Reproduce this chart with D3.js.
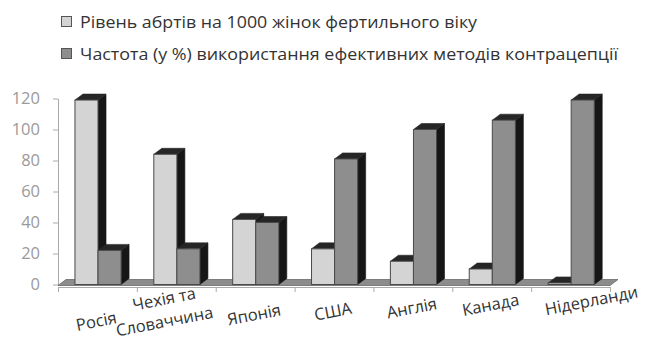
<!DOCTYPE html>
<html>
<head>
<meta charset="utf-8">
<script src="https://cdn.jsdelivr.net/npm/d3@7"></script>
<style>
  html, body { margin: 0; padding: 0; background: #fff; }
  svg { display: block; }
  text { font-family: "Open Sans", "Liberation Sans", sans-serif; }
</style>
</head>
<body>
<svg id="chart" width="648" height="351"></svg>
<script>
// Countries along the category axis
const categories = ["Росія", "Чехія та\nСловаччина", "Японія", "США", "Англія", "Канада", "Нідерланди"];
// Abortions per 1000 women of reproductive age
const abortionRate = [119, 84, 42, 23, 15, 10, 1];
// Share (%) using effective contraception methods
const contraceptionUse = [22, 23, 40, 81, 100, 106, 119];
// Series names for the legend
const seriesNames = [
  "Рівень абртів на 1000 жінок фертильного віку",
  "Частота (у %) використання ефективних методів контрацепції"
];
const yTicks = [0, 20, 40, 60, 80, 100, 120];

const svg = d3.select("#chart");
const fills = ["#d4d4d4", "#8e8e8e"];
const depthX = 8, depthY = 6;

const x0 = d3.scaleBand().domain(d3.range(categories.length)).range([58, 610]).padding(0);
const x1 = d3.scaleBand().domain([0, 1]).range([x0.bandwidth() * 0.215, x0.bandwidth() * 0.80]).padding(0);
const y = d3.scaleLinear().domain([0, 120]).range([284.5, 98.5]);

// Legend
const legend = svg.append("g");
const legendWidths = [397, 538];
seriesNames.forEach((name, i) => {
  const cy = 22 + i * 32;
  legend.append("rect")
    .attr("x", 61.5).attr("y", cy - 5.5).attr("width", 10).attr("height", 10)
    .attr("fill", fills[i]).attr("stroke", "#555").attr("stroke-width", 1);
  legend.append("text")
    .attr("x", 80).attr("y", cy).attr("dy", "0.36em")
    .attr("font-size", 15.5).attr("fill", "#333")
    .attr("textLength", legendWidths[i]).attr("lengthAdjust", "spacingAndGlyphs")
    .text(name);
});

// Y axis
const yAxis = svg.append("g")
  .attr("transform", "translate(58,0)")
  .call(d3.axisLeft(y).tickValues(yTicks).tickSize(5).tickPadding(13).tickSizeOuter(0));
yAxis.select(".domain").attr("stroke", "#aaa");
yAxis.selectAll(".tick line").attr("stroke", "#aaa");
yAxis.selectAll(".tick text")
  .attr("font-size", 16.5).attr("fill", "#9a9a9a")
  .attr("font-family", "'Open Sans', 'Liberation Sans', sans-serif");

// Floor of the 3D plot
const floorFront = y(0) + 1;
svg.append("path")
  .attr("d", d3.line()([
    [x0.range()[0], floorFront], [x0.range()[1], floorFront],
    [x0.range()[1] + depthX, floorFront - depthY], [x0.range()[0] + depthX, floorFront - depthY]
  ]) + "Z")
  .attr("fill", "#8c8c8c").attr("stroke", "#6a6a6a").attr("stroke-width", 0.8);

// Category axis with ticks at group boundaries
const xEdge = d3.scaleLinear().domain([0, categories.length]).range(x0.range());
const xAxis = svg.append("g")
  .attr("transform", `translate(0,${floorFront + 1.5})`)
  .call(d3.axisBottom(xEdge).tickValues(d3.range(categories.length + 1)).tickFormat("").tickSize(5).tickSizeOuter(0));
xAxis.select(".domain").attr("stroke", "#aaa");
xAxis.selectAll(".tick line").attr("stroke", "#aaa");

// 3D bars: front face, right side and top
function drawBar(g, x, w, v, fill) {
  const top = y(v), base = y(0);
  g.append("path")
    .attr("d", d3.line()([[x + w, base], [x + w + depthX, base - depthY], [x + w + depthX, top - depthY], [x + w, top]]) + "Z")
    .attr("fill", "#161616").attr("stroke", "#161616").attr("stroke-width", 0.6);
  g.append("path")
    .attr("d", d3.line()([[x, top], [x + depthX, top - depthY], [x + w + depthX, top - depthY], [x + w, top]]) + "Z")
    .attr("fill", "#262626").attr("stroke", "#262626").attr("stroke-width", 0.6);
  g.append("rect")
    .attr("x", x).attr("y", top).attr("width", w).attr("height", base - top)
    .attr("fill", fill).attr("stroke", "#4a4a4a").attr("stroke-width", 1);
}

const bars = svg.append("g");
categories.forEach((c, i) => {
  const g = bars.append("g");
  [abortionRate[i], contraceptionUse[i]].forEach((v, s) => {
    drawBar(g, x0(i) + x1(s), x1.bandwidth(), v, fills[s]);
  });
});

// Slanted category labels; they follow the receding axis, so the
// label line rises slightly toward the right
const labelShift = { 1: -15, 6: 22 };
const labels = svg.append("g");
categories.forEach((c, i) => {
  const cx = x0(i) + x0.bandwidth() / 2 + (labelShift[i] || 0);
  const lines = c.split("\n");
  const cyMid = 327 - 0.042 * (cx - 97);
  const t = labels.append("text")
    .attr("transform", `translate(${cx},${lines.length > 1 ? cyMid - 19 : cyMid}) rotate(-11)`)
    .attr("text-anchor", "middle")
    .attr("font-size", 16.5).attr("fill", "#333");
  lines.forEach((ln, k) => {
    t.append("tspan").attr("x", k === 0 && lines.length > 1 ? 4 : 0).attr("dy", k === 0 ? 0 : "1.35em").text(ln);
  });
});
</script>
</body>
</html>
